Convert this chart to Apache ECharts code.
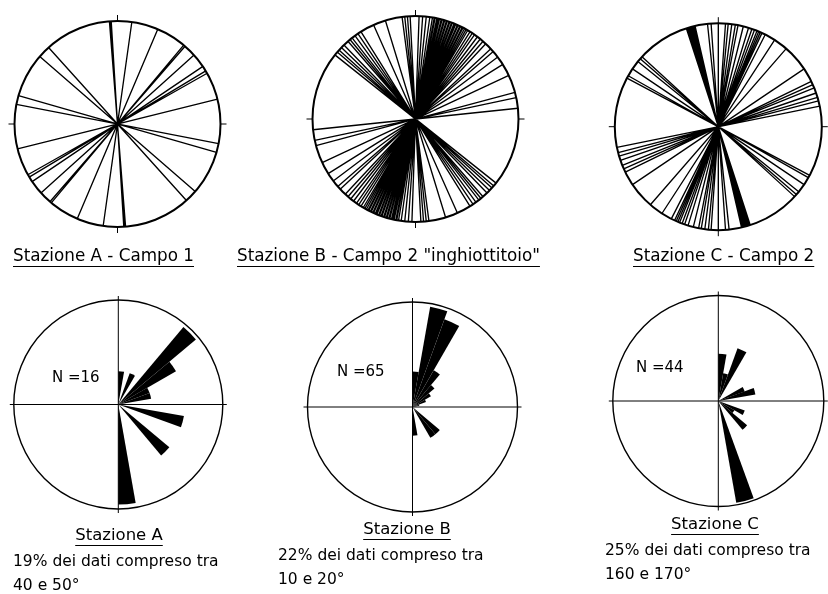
<!DOCTYPE html>
<html>
<head>
<meta charset="utf-8">
<script src="https://cdn.jsdelivr.net/npm/echarts@6/dist/echarts.min.js"></script>
<style>
  html, body { margin: 0; padding: 0; background: #fff; }
  #chart { width: 828px; height: 594px; }
</style>
</head>
<body>
<div id="chart"></div>
<script>
// Strike azimuths (degrees, 0-180) of the fractures measured at each station
const strikesA = [8, 23, 40, 41, 48, 56, 59, 60.5, 76, 101, 106, 131, 138, 175.5, 176, 176.5];
const strikesB = [2, 4, 6, 8, 9.5,
  10.5, 11, 12, 12.5, 13, 13.5, 14.5, 15, 16, 16.5, 17.5, 18, 19, 19.5,
  20.5, 21, 22, 22.5, 23, 24, 24.5, 25.5, 26, 27, 27.5, 28.5, 29.5,
  30.5, 32, 33.5, 35, 37, 39,
  41, 43, 47, 49, 53, 58, 65, 75, 78, 84,
  128.5, 130.5, 132, 134, 136, 139,
  140.5, 142, 144, 146, 148, 156, 163,
  172.5, 174, 175.5, 177];
const strikesC = [0, 4, 5.5, 7.5, 9.5,
  11, 14, 17, 19,
  20.5, 22, 23, 24, 25, 27,
  33, 41, 56, 64, 66, 68,
  71, 73.5, 75.5, 78.5,
  118, 119.5, 124, 129, 131, 132.5,
  162, 162.5, 163, 163.5, 164, 164.5, 165, 165.5, 166, 166.5, 167,
  174, 176];

// Rose diagram frequencies (%) for the 10° classes 0-10° ... 170-180°
const roseA = [6.25, 0, 6.25, 0, 19, 12.5, 6.25, 6.25, 0, 0, 12.5, 0, 0, 12.5, 0, 0, 0, 18.75];
const roseB = [7.7, 22, 20.2, 9.2, 6.2, 4.6, 3.1, 1.5, 0, 0, 0, 0, 0, 7.7, 7.7, 0, 0, 6.2];
const roseC = [11.4, 6.8, 13.6, 0, 0, 0, 6.8, 9.1, 0, 0, 0, 6.8, 4.5, 9.1, 0, 0, 25, 0];

// Sample sizes and modal classes
const sampleSizes = [16, 65, 44];
const modalClasses = ['40 e 50°', '10 e 20°', '160 e 170°'];
const modalIndex = [4, 1, 16];

const stationNames = ['Stazione A', 'Stazione B', 'Stazione C'];
const fieldTitles = ['Stazione A - Campo 1', 'Stazione B - Campo 2 "inghiottitoio"', 'Stazione C - Campo 2'];

// 36 angular classes of 10° for the full circle
const angleClasses = [];
for (let a = 0; a < 360; a += 10) angleClasses.push(a + '-' + (a + 10));

const FONT = '"DejaVu Sans", Verdana, sans-serif';
const strikeSets = [strikesA, strikesB, strikesC];
const roseSets = [roseA, roseB, roseC];
const roseMax = [19.6, 22.7, 25.5];

const topCircles = [
  { c: [117.5, 124], r: 103 },
  { c: [415.5, 119], r: 103 },
  { c: [718.3, 126.7], r: 103.5 }
];
const roseCircles = [
  { c: [118.3, 404.5], r: 104.5 },
  { c: [412.5, 407], r: 105 },
  { c: [718.3, 401], r: 105.5 }
];

const polar = [], angleAxis = [], radiusAxis = [], series = [];

// Strike diagrams: every fracture drawn as a diameter of the circle
topCircles.forEach((g, i) => {
  polar.push({ center: g.c, radius: g.r });
  angleAxis.push({
    polarIndex: i, type: 'value', min: 0, max: 360, interval: 90,
    startAngle: 90, clockwise: true,
    axisLine: { show: true, lineStyle: { color: '#000', width: 2 } },
    axisTick: { show: true, length: 6, lineStyle: { color: '#000', width: 1 } },
    axisLabel: { show: false },
    splitLine: { show: false }
  });
  radiusAxis.push({ polarIndex: i, type: 'value', min: 0, max: 1, show: false });
  const data = [];
  strikeSets[i].forEach(a => { data.push([1, a], [1, a + 180], ['-', '-']); });
  series.push({
    type: 'line', coordinateSystem: 'polar', polarIndex: i,
    showSymbol: false, symbol: 'none', connectNulls: false, silent: true,
    lineStyle: { color: '#000', width: 1.35 },
    data: data
  });
});

// Rose diagrams of the strike frequencies
roseCircles.forEach((g, j) => {
  const k = j + 3;
  polar.push({ center: g.c, radius: g.r });
  angleAxis.push({
    polarIndex: k, type: 'category', data: angleClasses, boundaryGap: true,
    startAngle: 90, clockwise: true,
    axisLine: { show: true, lineStyle: { color: '#000', width: 1.4 } },
    axisTick: { show: true, interval: 8, length: 4, lineStyle: { color: '#000', width: 1 } },
    axisLabel: { show: false },
    splitLine: { show: true, interval: 8, lineStyle: { color: '#000', width: 1 } }
  });
  radiusAxis.push({ polarIndex: k, type: 'value', min: 0, max: roseMax[j], show: false });
  series.push({
    type: 'bar', coordinateSystem: 'polar', polarIndex: k,
    barWidth: '100%', barCategoryGap: '0%', barGap: '0%', silent: true,
    itemStyle: { color: '#000' },
    data: roseSets[j].concat(new Array(18).fill('-'))
  });
});

// Text blocks
const measureCtx = document.createElement('canvas').getContext('2d');
function textWidth(text, size) {
  measureCtx.font = size + 'px ' + FONT;
  return measureCtx.measureText(text).width;
}
const graphic = [];
function addText(text, x, y, size, align, underline) {
  graphic.push({
    type: 'text', x: x, y: y, silent: true,
    style: { text: text, font: size + 'px ' + FONT, fill: '#000', align: align, verticalAlign: 'middle' }
  });
  if (underline) {
    const w = textWidth(text, size);
    const x0 = align === 'center' ? x - w / 2 : x;
    const uy = Math.round(y + size * 0.3 + 4) + 0.5;
    graphic.push({
      type: 'line', silent: true,
      shape: { x1: x0, y1: uy, x2: x0 + w, y2: uy },
      style: { stroke: '#000', lineWidth: 1 }
    });
  }
}

const titleX = [13, 237, 633];
fieldTitles.forEach((t, i) => addText(t, titleX[i], 256.5, 16.8, 'left', true));

const stationX = [119, 407, 715];
const stationY = [536, 530, 525];
const descX = [13, 278, 605];
stationNames.forEach((s, i) => {
  addText(s, stationX[i], stationY[i], 16.5, 'center', true);
  const pct = roseSets[i][modalIndex[i]];
  addText(pct + '% dei dati compreso tra', descX[i], stationY[i] + 26, 15.5, 'left', false);
  addText(modalClasses[i], descX[i], stationY[i] + 50, 15.5, 'left', false);
});

const nX = [52, 337, 636];
const nY = [378, 372, 368];
sampleSizes.forEach((n, i) => addText('N =' + n, nX[i], nY[i], 15, 'left', false));

const chart = echarts.init(document.getElementById('chart'));
chart.setOption({
  animation: false,
  backgroundColor: '#fff',
  polar: polar,
  angleAxis: angleAxis,
  radiusAxis: radiusAxis,
  series: series,
  graphic: graphic
});
</script>
</body>
</html>
